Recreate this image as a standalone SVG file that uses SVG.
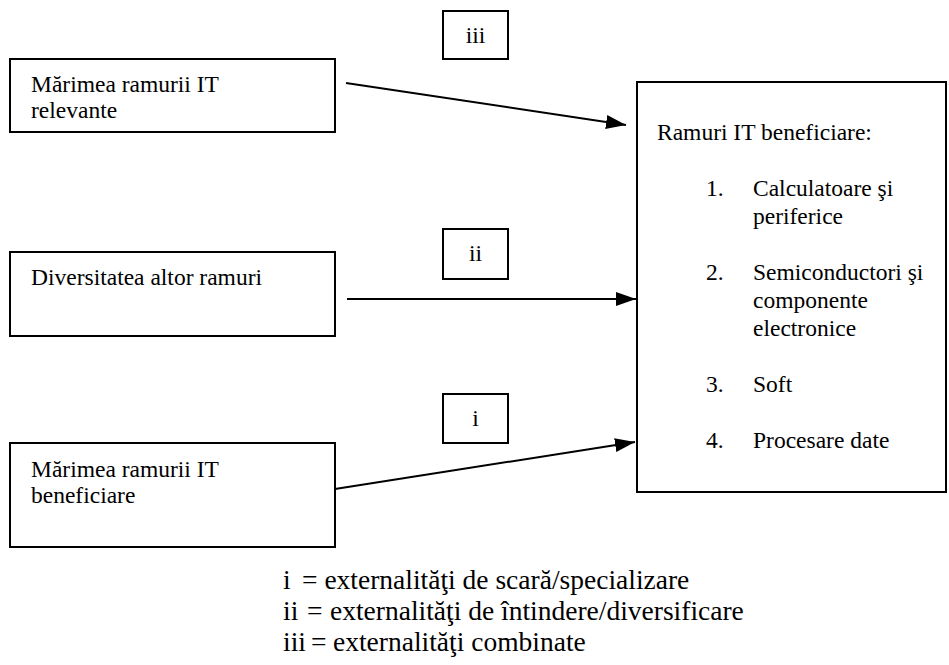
<svg xmlns="http://www.w3.org/2000/svg" width="949" height="665" viewBox="0 0 949 665">
<defs>
<style>
.box{fill:#fff;stroke:#000;stroke-width:2}
.c{stroke:#000;stroke-width:2;fill:none}
.lg{font-size:27.5px}
</style>
<marker id="a" viewBox="0 0 20 14" refX="20" refY="7" markerWidth="20" markerHeight="14" markerUnits="userSpaceOnUse" orient="auto">
<path d="M0,0 L20,7 L0,14 z" fill="#000"/>
</marker>
</defs>
<rect width="949" height="665" fill="#fff"/>
<g font-family="'Liberation Serif', 'Times New Roman', serif" font-size="23.5" fill="#000">
<g id="n-marime-relevante">
<rect class="box" x="10" y="59" width="325" height="73"/>
<text x="31" y="92">Mărimea ramurii IT</text>
<text x="31" y="118">relevante</text>
</g>
<g id="n-diversitate">
<rect class="box" x="10" y="252" width="325" height="84"/>
<text x="31" y="285">Diversitatea altor ramuri</text>
</g>
<g id="n-marime-beneficiare">
<rect class="box" x="10" y="443" width="325" height="104"/>
<text x="31" y="477">Mărimea ramurii IT</text>
<text x="31" y="503">beneficiare</text>
</g>
<g id="n-ramuri">
<rect class="box" x="637" y="82" width="309" height="410"/>
<text x="657" y="140">Ramuri IT beneficiare:</text>
<text x="706" y="196">1.</text>
<text x="753" y="196">Calculatoare şi</text>
<text x="753" y="224">periferice</text>
<text x="706" y="280">2.</text>
<text x="753" y="280">Semiconductori şi</text>
<text x="753" y="308">componente</text>
<text x="753" y="336">electronice</text>
<text x="706" y="392">3.</text>
<text x="753" y="392">Soft</text>
<text x="706" y="448">4.</text>
<text x="753" y="448">Procesare date</text>
</g>
<g id="n-iii">
<rect class="box" x="443" y="11" width="65" height="48"/>
<text x="475.5" y="43" text-anchor="middle">iii</text>
</g>
<g id="n-ii">
<rect class="box" x="443" y="229" width="65" height="50"/>
<text x="475.5" y="261" text-anchor="middle">ii</text>
</g>
<g id="n-i">
<rect class="box" x="443" y="394" width="65" height="49"/>
<text x="475.5" y="426" text-anchor="middle">i</text>
</g>
<g id="connectors">
<line class="c" x1="346" y1="83" x2="626" y2="125" marker-end="url(#a)"/>
<line class="c" x1="347" y1="299" x2="636" y2="299" marker-end="url(#a)"/>
<line class="c" x1="335" y1="489" x2="635" y2="442" marker-end="url(#a)"/>
</g>
<g id="legend" class="lg">
<text x="283" y="589">i</text><text x="302" y="589">= externalităţi de scară/specializare</text>
<text x="283" y="620">ii</text><text x="307" y="620">=</text><text x="330" y="620">externalităţi de întindere/diversificare</text>
<text x="283" y="651">iii</text><text x="311" y="651">=</text><text x="333" y="651">externalităţi combinate</text>
</g>
</g>
</svg>
